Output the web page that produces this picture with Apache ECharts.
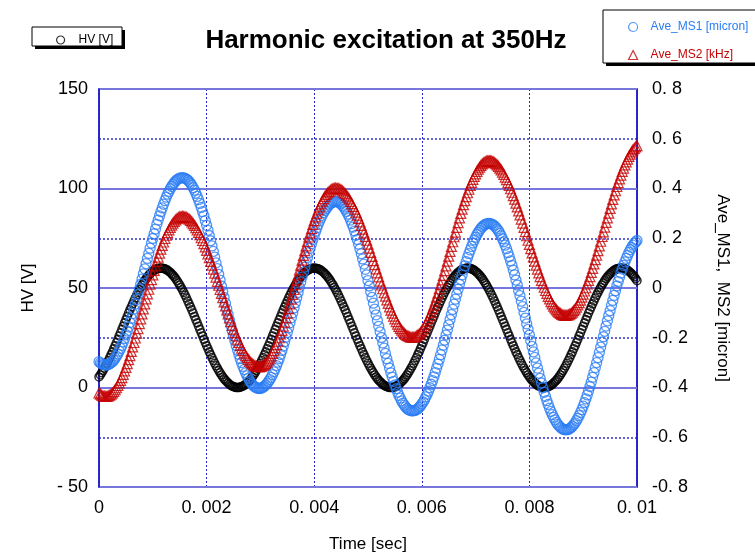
<!DOCTYPE html>
<html>
<head>
<meta charset="utf-8">
<script src="https://cdn.jsdelivr.net/npm/echarts@6/dist/echarts.min.js"></script>
<style>
  html, body { margin: 0; padding: 0; background: #ffffff; }
  #chart { width: 755px; height: 558px; }
</style>
</head>
<body>
<div id="chart"></div>
<script>
// Sample times [sec]
const time = [
  0,0.000025,0.00005,0.000075,0.0001,0.000125,0.00015,0.000175,0.0002,0.000225,0.00025,0.000275,0.0003,0.000325,0.00035,0.000375,0.0004,0.000425,0.00045,0.000475,0.0005,0.000525,0.00055,0.000575,0.0006,0.000625,0.00065,0.000675,0.0007,0.000725,0.00075,0.000775,0.0008,0.000825,0.00085,0.000875,0.0009,0.000925,0.00095,0.000975,
  0.001,0.001025,0.00105,0.001075,0.0011,0.001125,0.00115,0.001175,0.0012,0.001225,0.00125,0.001275,0.0013,0.001325,0.00135,0.001375,0.0014,0.001425,0.00145,0.001475,0.0015,0.001525,0.00155,0.001575,0.0016,0.001625,0.00165,0.001675,0.0017,0.001725,0.00175,0.001775,0.0018,0.001825,0.00185,0.001875,0.0019,0.001925,0.00195,0.001975,
  0.002,0.002025,0.00205,0.002075,0.0021,0.002125,0.00215,0.002175,0.0022,0.002225,0.00225,0.002275,0.0023,0.002325,0.00235,0.002375,0.0024,0.002425,0.00245,0.002475,0.0025,0.002525,0.00255,0.002575,0.0026,0.002625,0.00265,0.002675,0.0027,0.002725,0.00275,0.002775,0.0028,0.002825,0.00285,0.002875,0.0029,0.002925,0.00295,0.002975,
  0.003,0.003025,0.00305,0.003075,0.0031,0.003125,0.00315,0.003175,0.0032,0.003225,0.00325,0.003275,0.0033,0.003325,0.00335,0.003375,0.0034,0.003425,0.00345,0.003475,0.0035,0.003525,0.00355,0.003575,0.0036,0.003625,0.00365,0.003675,0.0037,0.003725,0.00375,0.003775,0.0038,0.003825,0.00385,0.003875,0.0039,0.003925,0.00395,0.003975,
  0.004,0.004025,0.00405,0.004075,0.0041,0.004125,0.00415,0.004175,0.0042,0.004225,0.00425,0.004275,0.0043,0.004325,0.00435,0.004375,0.0044,0.004425,0.00445,0.004475,0.0045,0.004525,0.00455,0.004575,0.0046,0.004625,0.00465,0.004675,0.0047,0.004725,0.00475,0.004775,0.0048,0.004825,0.00485,0.004875,0.0049,0.004925,0.00495,0.004975,
  0.005,0.005025,0.00505,0.005075,0.0051,0.005125,0.00515,0.005175,0.0052,0.005225,0.00525,0.005275,0.0053,0.005325,0.00535,0.005375,0.0054,0.005425,0.00545,0.005475,0.0055,0.005525,0.00555,0.005575,0.0056,0.005625,0.00565,0.005675,0.0057,0.005725,0.00575,0.005775,0.0058,0.005825,0.00585,0.005875,0.0059,0.005925,0.00595,0.005975,
  0.006,0.006025,0.00605,0.006075,0.0061,0.006125,0.00615,0.006175,0.0062,0.006225,0.00625,0.006275,0.0063,0.006325,0.00635,0.006375,0.0064,0.006425,0.00645,0.006475,0.0065,0.006525,0.00655,0.006575,0.0066,0.006625,0.00665,0.006675,0.0067,0.006725,0.00675,0.006775,0.0068,0.006825,0.00685,0.006875,0.0069,0.006925,0.00695,0.006975,
  0.007,0.007025,0.00705,0.007075,0.0071,0.007125,0.00715,0.007175,0.0072,0.007225,0.00725,0.007275,0.0073,0.007325,0.00735,0.007375,0.0074,0.007425,0.00745,0.007475,0.0075,0.007525,0.00755,0.007575,0.0076,0.007625,0.00765,0.007675,0.0077,0.007725,0.00775,0.007775,0.0078,0.007825,0.00785,0.007875,0.0079,0.007925,0.00795,0.007975,
  0.008,0.008025,0.00805,0.008075,0.0081,0.008125,0.00815,0.008175,0.0082,0.008225,0.00825,0.008275,0.0083,0.008325,0.00835,0.008375,0.0084,0.008425,0.00845,0.008475,0.0085,0.008525,0.00855,0.008575,0.0086,0.008625,0.00865,0.008675,0.0087,0.008725,0.00875,0.008775,0.0088,0.008825,0.00885,0.008875,0.0089,0.008925,0.00895,0.008975,
  0.009,0.009025,0.00905,0.009075,0.0091,0.009125,0.00915,0.009175,0.0092,0.009225,0.00925,0.009275,0.0093,0.009325,0.00935,0.009375,0.0094,0.009425,0.00945,0.009475,0.0095,0.009525,0.00955,0.009575,0.0096,0.009625,0.00965,0.009675,0.0097,0.009725,0.00975,0.009775,0.0098,0.009825,0.00985,0.009875,0.0099,0.009925,0.00995,0.009975,
  0.01
];

// Drive voltage HV [V]
const hv = [
  5.3,6.3,7.4,8.5,9.7,10.9,12.2,13.6,15.0,16.5,17.9,19.5,21.0,22.6,24.2,25.9,27.5,29.2,30.8,32.5,34.1,35.7,37.4,39.0,40.5,42.0,43.5,45.0,46.4,47.8,49.1,50.3,51.5,52.6,53.7,54.7,55.6,56.4,57.1,57.8,58.4,58.9,59.3,59.6,59.8,59.9,60.0,
  59.9,59.8,59.6,59.3,58.9,58.4,57.8,57.1,56.4,55.6,54.7,53.7,52.6,51.5,50.3,49.1,47.8,46.4,45.0,43.5,42.0,40.5,39.0,37.4,35.7,34.1,32.5,30.8,29.2,27.5,25.9,24.2,22.6,21.0,19.5,17.9,16.5,15.0,13.6,12.2,10.9,9.7,8.5,7.4,6.3,5.3,4.4,3.6,2.9,2.2,1.6,1.1,0.7,0.4,0.2,0.0,0.0,
  0.0,0.2,0.4,0.7,1.1,1.6,2.2,2.9,3.6,4.4,5.3,6.3,7.4,8.5,9.7,10.9,12.2,13.6,15.0,16.5,17.9,19.5,21.0,22.6,24.2,25.9,27.5,29.2,30.8,32.5,34.1,35.7,37.4,39.0,40.5,42.0,43.5,45.0,46.4,47.8,49.1,50.3,51.5,52.6,53.7,54.7,55.6,56.4,57.1,57.8,58.4,58.9,59.3,59.6,59.8,59.9,60.0,
  59.9,59.8,59.6,59.3,58.9,58.4,57.8,57.1,56.4,55.6,54.7,53.7,52.6,51.5,50.3,49.1,47.8,46.4,45.0,43.5,42.0,40.5,39.0,37.4,35.7,34.1,32.5,30.8,29.2,27.5,25.9,24.2,22.6,21.0,19.5,17.9,16.5,15.0,13.6,12.2,10.9,9.7,8.5,7.4,6.3,5.3,4.4,3.6,2.9,2.2,1.6,1.1,0.7,0.4,0.2,0.0,0.0,
  0.0,0.2,0.4,0.7,1.1,1.6,2.2,2.9,3.6,4.4,5.3,6.3,7.4,8.5,9.7,10.9,12.2,13.6,15.0,16.5,17.9,19.5,21.0,22.6,24.2,25.9,27.5,29.2,30.8,32.5,34.1,35.7,37.4,39.0,40.5,42.0,43.5,45.0,46.4,47.8,49.1,50.3,51.5,52.6,53.7,54.7,55.6,56.4,57.1,57.8,58.4,58.9,59.3,59.6,59.8,59.9,60.0,
  59.9,59.8,59.6,59.3,58.9,58.4,57.8,57.1,56.4,55.6,54.7,53.7,52.6,51.5,50.3,49.1,47.8,46.4,45.0,43.5,42.0,40.5,39.0,37.4,35.7,34.1,32.5,30.8,29.2,27.5,25.9,24.2,22.6,21.0,19.5,17.9,16.5,15.0,13.6,12.2,10.9,9.7,8.5,7.4,6.3,5.3,4.4,3.6,2.9,2.2,1.6,1.1,0.7,0.4,0.2,0.0,0.0,
  0.0,0.2,0.4,0.7,1.1,1.6,2.2,2.9,3.6,4.4,5.3,6.3,7.4,8.5,9.7,10.9,12.2,13.6,15.0,16.5,17.9,19.5,21.0,22.6,24.2,25.9,27.5,29.2,30.8,32.5,34.1,35.7,37.4,39.0,40.5,42.0,43.5,45.0,46.4,47.8,49.1,50.3,51.5,52.6,53.7,54.7,55.6,56.4,57.1,57.8,58.4,58.9,59.3,59.6,59.8,59.9,60.0,
  59.9,59.8,59.6,59.3,58.9,58.4,57.8,57.1,56.4,55.6,54.7,53.7
];

// Averaged displacement MS1 [micron]
const aveMs1 = [
  -0.296,-0.301,-0.305,-0.308,-0.309,-0.310,
  -0.309,-0.308,-0.305,-0.301,-0.296,-0.290,-0.282,-0.274,-0.265,-0.254,-0.243,-0.231,-0.217,-0.203,-0.188,-0.173,-0.156,-0.139,-0.122,-0.103,
  -0.084,-0.065,-0.046,-0.026,-0.005,0.015,0.036,0.057,0.077,0.098,0.119,0.139,0.160,0.180,0.199,0.218,0.237,0.256,0.273,0.290,
  0.307,0.322,0.337,0.351,0.365,0.377,0.388,0.399,0.408,0.416,0.424,0.430,0.435,0.439,0.442,0.443,0.444,
  0.443,0.441,0.438,0.434,0.428,0.421,0.413,0.403,0.393,0.381,0.368,0.355,0.340,0.324,0.307,0.290,0.271,0.252,0.232,0.211,
  0.190,0.169,0.147,0.124,0.101,0.078,0.055,0.032,0.008,-0.015,-0.038,-0.061,-0.084,-0.107,-0.129,-0.150,-0.171,-0.192,-0.212,-0.231,
  -0.250,-0.267,-0.284,-0.300,-0.315,-0.328,-0.341,-0.353,-0.363,-0.373,-0.381,-0.388,-0.394,-0.398,-0.401,-0.403,-0.404,
  -0.403,-0.402,-0.399,-0.395,-0.390,-0.384,-0.376,-0.368,-0.359,-0.348,-0.337,-0.325,-0.312,-0.298,-0.283,-0.267,-0.251,-0.234,-0.216,-0.198,
  -0.179,-0.160,-0.140,-0.120,-0.100,-0.080,-0.059,-0.038,-0.018,0.003,0.024,0.044,0.064,0.084,0.104,0.123,0.142,0.160,0.178,0.195,
  0.211,0.227,0.242,0.256,0.269,0.281,0.292,0.303,0.312,0.320,0.328,0.334,0.339,0.343,0.346,0.347,0.348,
  0.347,0.345,0.342,0.338,0.332,0.325,0.317,0.308,0.297,0.286,0.273,0.259,0.245,0.229,0.212,0.195,0.176,0.157,0.138,0.117,
  0.096,0.075,0.053,0.030,0.008,-0.015,-0.038,-0.061,-0.085,-0.108,-0.131,-0.154,-0.176,-0.199,-0.221,-0.242,-0.263,-0.284,-0.303,-0.322,
  -0.341,-0.358,-0.375,-0.390,-0.405,-0.419,-0.432,-0.443,-0.454,-0.463,-0.471,-0.478,-0.484,-0.488,-0.491,-0.493,-0.494,
  -0.493,-0.492,-0.489,-0.485,-0.480,-0.474,-0.466,-0.458,-0.449,-0.438,-0.427,-0.415,-0.401,-0.387,-0.372,-0.357,-0.340,-0.323,-0.306,-0.287,
  -0.268,-0.249,-0.230,-0.210,-0.189,-0.169,-0.148,-0.127,-0.107,-0.086,-0.065,-0.045,-0.025,-0.005,0.015,0.034,0.053,0.072,0.089,0.106,
  0.123,0.138,0.153,0.167,0.181,0.193,0.204,0.215,0.224,0.232,0.240,0.246,0.251,0.255,0.258,0.259,0.260,
  0.259,0.257,0.254,0.250,0.244,0.237,0.230,0.220,0.210,0.198,0.186,0.172,0.158,0.142,0.126,0.109,0.091,0.072,0.053,0.032,
  0.012,-0.010,-0.031,-0.053,-0.075,-0.098,-0.121,-0.144,-0.166,-0.189,-0.212,-0.235,-0.257,-0.279,-0.301,-0.322,-0.342,-0.363,-0.382,-0.401,
  -0.419,-0.436,-0.453,-0.468,-0.483,-0.496,-0.509,-0.520,-0.530,-0.540,-0.548,-0.554,-0.560,-0.564,-0.568,-0.569,-0.570,
  -0.569,-0.569,-0.565,-0.561,-0.556,-0.549,-0.542,-0.533,-0.524,-0.513,-0.501,-0.489,-0.475,-0.461,-0.446,-0.430,-0.413,-0.396,-0.378,-0.359,
  -0.340,-0.320,-0.300,-0.280,-0.259,-0.238,-0.217,-0.196,-0.174,-0.153,-0.132,-0.111,-0.091,-0.070,-0.050,-0.030,-0.011,0.008,0.026,0.043,
  0.060,0.076,0.091,0.105,0.119,0.131,0.143,0.154,0.163,0.172,0.179,0.185,0.191
];

// Averaged signal MS2 [kHz]
const aveMs2 = [
  -0.422,-0.427,-0.431,-0.434,-0.435,-0.436,
  -0.435,-0.434,-0.431,-0.427,-0.422,-0.416,-0.409,-0.401,-0.392,-0.382,-0.371,-0.360,-0.347,-0.333,-0.319,-0.304,-0.288,-0.272,-0.255,-0.237,
  -0.219,-0.201,-0.182,-0.163,-0.143,-0.124,-0.104,-0.084,-0.064,-0.044,-0.024,-0.005,0.015,0.034,0.053,0.071,0.089,0.107,0.124,0.140,
  0.156,0.171,0.185,0.199,0.212,0.223,0.234,0.244,0.253,0.261,0.268,0.274,0.279,0.283,0.286,0.287,0.288,
  0.287,0.286,0.284,0.281,0.277,0.272,0.266,0.259,0.252,0.243,0.234,0.224,0.214,0.202,0.191,0.178,0.165,0.151,0.137,0.122,
  0.107,0.092,0.076,0.060,0.044,0.027,0.011,-0.006,-0.022,-0.039,-0.056,-0.072,-0.088,-0.104,-0.120,-0.135,-0.150,-0.165,-0.179,-0.193,
  -0.206,-0.219,-0.231,-0.242,-0.252,-0.262,-0.271,-0.280,-0.287,-0.294,-0.300,-0.305,-0.309,-0.312,-0.314,-0.316,-0.316,
  -0.316,-0.314,-0.311,-0.307,-0.303,-0.297,-0.290,-0.282,-0.273,-0.263,-0.252,-0.240,-0.228,-0.214,-0.200,-0.185,-0.170,-0.153,-0.137,-0.119,
  -0.101,-0.083,-0.064,-0.045,-0.026,-0.006,0.013,0.033,0.053,0.073,0.092,0.112,0.131,0.150,0.169,0.187,0.205,0.222,0.239,0.256,
  0.271,0.286,0.300,0.314,0.326,0.338,0.349,0.359,0.368,0.376,0.383,0.388,0.393,0.397,0.400,0.401,0.402,
  0.401,0.400,0.398,0.395,0.391,0.386,0.380,0.373,0.366,0.358,0.348,0.339,0.328,0.317,0.305,0.293,0.280,0.266,0.252,0.237,
  0.222,0.207,0.192,0.176,0.160,0.143,0.127,0.110,0.094,0.077,0.061,0.045,0.028,0.012,-0.003,-0.019,-0.033,-0.048,-0.062,-0.076,
  -0.089,-0.101,-0.113,-0.124,-0.135,-0.145,-0.154,-0.162,-0.169,-0.176,-0.182,-0.187,-0.191,-0.194,-0.196,-0.198,-0.198,
  -0.198,-0.196,-0.193,-0.189,-0.185,-0.179,-0.172,-0.164,-0.155,-0.145,-0.135,-0.123,-0.111,-0.098,-0.083,-0.069,-0.053,-0.037,-0.021,-0.003,
  0.014,0.033,0.051,0.070,0.089,0.108,0.128,0.147,0.167,0.186,0.206,0.225,0.244,0.263,0.282,0.300,0.317,0.335,0.351,0.367,
  0.383,0.397,0.412,0.425,0.437,0.449,0.459,0.469,0.478,0.486,0.493,0.499,0.503,0.507,0.510,0.511,0.512,
  0.511,0.510,0.508,0.504,0.500,0.495,0.489,0.482,0.475,0.466,0.457,0.446,0.436,0.424,0.412,0.399,0.385,0.371,0.357,0.341,
  0.326,0.310,0.294,0.277,0.261,0.244,0.227,0.210,0.192,0.175,0.158,0.141,0.125,0.108,0.092,0.076,0.061,0.046,0.031,0.017,
  0.003,-0.010,-0.022,-0.034,-0.044,-0.055,-0.064,-0.073,-0.080,-0.087,-0.093,-0.098,-0.102,-0.106,-0.108,-0.110,-0.110,
  -0.109,-0.108,-0.105,-0.102,-0.097,-0.091,-0.085,-0.077,-0.068,-0.059,-0.049,-0.037,-0.025,-0.012,0.001,0.016,0.031,0.046,0.063,0.079,
  0.097,0.114,0.132,0.150,0.169,0.188,0.207,0.226,0.245,0.264,0.282,0.301,0.320,0.338,0.356,0.374,0.391,0.408,0.424,0.439,
  0.454,0.469,0.482,0.495,0.507,0.518,0.529,0.538,0.547,0.555,0.561,0.567,0.572
];

// Tick labels
const xTicks = [0, 0.002, 0.004, 0.006, 0.008, 0.01];
const xTickLabels = ['0', '0. 002', '0. 004', '0. 006', '0. 008', '0. 01'];
const leftTicks = [-50, 0, 50, 100, 150];
const leftTickLabels = ['- 50', '0', '50', '100', '150'];
const rightTicks = [-0.8, -0.6, -0.4, -0.2, 0, 0.2, 0.4, 0.6, 0.8];
const rightTickLabels = ['-0. 8', '-0. 6', '-0. 4', '-0. 2', '0', '0. 2', '0. 4', '0. 6', '0. 8'];

const FONT = 'Liberation Sans, Arial, sans-serif';
const FRAME = '#1c1cc8';
const BLUE = '#2a7df5';
const RED = '#c40000';

function nearestLabel(ticks, labels, v) {
  let best = 0;
  for (let i = 1; i < ticks.length; i++) {
    if (Math.abs(ticks[i] - v) < Math.abs(ticks[best] - v)) best = i;
  }
  return labels[best];
}

const pairs = (ys) => time.map((t, i) => [t, ys[i]]);

const chart = echarts.init(document.getElementById('chart'), null, { renderer: 'canvas' });

chart.setOption({
  animation: false,
  backgroundColor: '#ffffff',
  textStyle: { fontFamily: FONT },
  graphic: [
    { type: 'text', x: 386, y: 41,
      style: { text: 'Harmonic excitation at 350Hz', font: 'bold 26px ' + FONT, fill: '#000',
               textAlign: 'center', textVerticalAlign: 'middle' } },
    // legend frames with drop shadow
    { type: 'rect', shape: { x: 35, y: 30, width: 90, height: 19 }, style: { fill: '#000' }, z: -1 },
    { type: 'rect', shape: { x: 32, y: 27, width: 90, height: 19 }, style: { fill: '#fff', stroke: '#000', lineWidth: 1 }, z: -1 },
    { type: 'rect', shape: { x: 606, y: 13, width: 160, height: 53 }, style: { fill: '#000' }, z: -1 },
    { type: 'rect', shape: { x: 603, y: 10, width: 160, height: 53 }, style: { fill: '#fff', stroke: '#000', lineWidth: 1 }, z: -1 }
  ],
  legend: [
    {
      data: [{ name: 'HV [V]', icon: 'circle',
               itemStyle: { color: 'transparent', borderColor: '#000', borderWidth: 1.2 },
               textStyle: { color: '#000' } }],
      left: 51, top: 29, itemWidth: 8, itemHeight: 8, selectedMode: false,
      textStyle: { fontSize: 12, fontFamily: FONT, padding: [0, 0, 0, 9] }
    },
    {
      data: [
        { name: 'Ave_MS1 [micron]', icon: 'circle',
          itemStyle: { color: 'transparent', borderColor: BLUE, borderWidth: 1.2 },
          textStyle: { color: BLUE } },
        { name: 'Ave_MS2 [kHz]', icon: 'triangle',
          itemStyle: { color: 'transparent', borderColor: RED, borderWidth: 1.2 },
          textStyle: { color: RED } }
      ],
      orient: 'vertical', left: 623, top: 16, itemGap: 16, itemWidth: 9, itemHeight: 9,
      selectedMode: false,
      textStyle: { fontSize: 12, fontFamily: FONT, padding: [0, 0, 0, 8] }
    }
  ],
  grid: {
    left: 99, top: 89, width: 538, height: 400,
    show: true, borderColor: FRAME, borderWidth: 1.5, backgroundColor: 'transparent'
  },
  xAxis: {
    type: 'value', min: 0, max: 0.01, interval: 0.002,
    name: 'Time [sec]', nameLocation: 'middle', nameGap: 49,
    nameTextStyle: { fontSize: 17, color: '#000', fontFamily: FONT },
    axisLine: { show: true, lineStyle: { color: FRAME, width: 1.5 } },
    axisTick: { show: false },
    axisLabel: { fontSize: 18, color: '#000', margin: 12, fontFamily: FONT,
                 formatter: (v) => nearestLabel(xTicks, xTickLabels, v) },
    splitLine: { show: true, lineStyle: { color: '#2020cc', width: 1, type: [2, 2] } }
  },
  yAxis: [
    {
      type: 'value', position: 'left', min: -50, max: 150, interval: 50, z: 1,
      name: 'HV [V]', nameLocation: 'middle', nameGap: 62, nameRotate: 90,
      nameTextStyle: { fontSize: 17, color: '#000', fontFamily: FONT },
      axisLine: { show: true, lineStyle: { color: FRAME, width: 1.5 } },
      axisTick: { show: false },
      axisLabel: { fontSize: 18, color: '#000', margin: 11, fontFamily: FONT,
                   formatter: (v) => nearestLabel(leftTicks, leftTickLabels, v) },
      splitLine: { show: true, lineStyle: { color: '#7676dc', width: 2, type: 'solid' } }
    },
    {
      type: 'value', position: 'right', min: -0.8, max: 0.8, interval: 0.2, z: 0,
      name: 'Ave_MS1,  MS2 [micron]', nameLocation: 'middle', nameGap: 77, nameRotate: -90,
      nameTextStyle: { fontSize: 17, color: '#000', fontFamily: FONT },
      axisLine: { show: true, lineStyle: { color: FRAME, width: 1.5 } },
      axisTick: { show: false },
      axisLabel: { fontSize: 18, color: '#000', margin: 15, fontFamily: FONT,
                   formatter: (v) => nearestLabel(rightTicks, rightTickLabels, v) },
      splitLine: { show: true, lineStyle: { color: '#3030cc', width: 1.5, type: [2, 2] } }
    }
  ],
  series: [
    {
      name: 'HV [V]', type: 'scatter', yAxisIndex: 0, data: pairs(hv),
      symbol: 'circle', symbolSize: 8,
      itemStyle: { color: 'transparent', borderColor: '#000', borderWidth: 1.6 },
      emphasis: { disabled: true }
    },
    {
      name: 'Ave_MS1 [micron]', type: 'scatter', yAxisIndex: 1, data: pairs(aveMs1),
      symbol: 'circle', symbolSize: 10,
      itemStyle: { color: 'transparent', borderColor: BLUE, borderWidth: 1.3 },
      emphasis: { disabled: true }
    },
    {
      name: 'Ave_MS2 [kHz]', type: 'scatter', yAxisIndex: 1, data: pairs(aveMs2),
      symbol: 'triangle', symbolSize: 10,
      itemStyle: { color: 'transparent', borderColor: RED, borderWidth: 1.2 },
      emphasis: { disabled: true }
    }
  ]
});
</script>
</body>
</html>
